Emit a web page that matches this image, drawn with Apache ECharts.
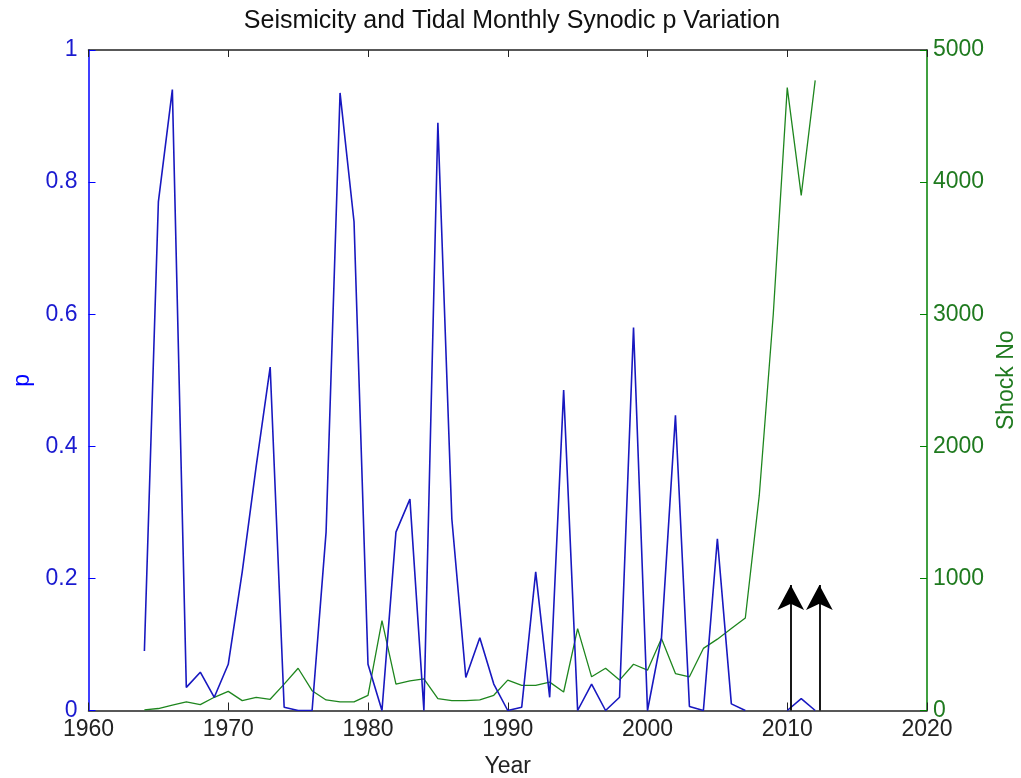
<!DOCTYPE html>
<html>
<head>
<meta charset="utf-8">
<title>Seismicity and Tidal Monthly Synodic p Variation</title>
<script src="https://cdn.jsdelivr.net/npm/echarts@6/dist/echarts.min.js"></script>
<style>
  html, body { margin: 0; padding: 0; background: #fff; }
  #chart { width: 1021px; height: 778px; }
</style>
</head>
<body>
<div id="chart"></div>
<script>
// years of the record
const years = [
  1964, 1965, 1966, 1967, 1968, 1969, 1970, 1971, 1972, 1973,
  1974, 1975, 1976, 1977, 1978, 1979, 1980, 1981, 1982, 1983,
  1984, 1985, 1986, 1987, 1988, 1989, 1990, 1991, 1992, 1993,
  1994, 1995, 1996, 1997, 1998, 1999, 2000, 2001, 2002, 2003,
  2004, 2005, 2006, 2007, 2008, 2009, 2010, 2011, 2012
]
// tidal monthly synodic p (left axis), null = no value
const pValues = [
  0.09, 0.77, 0.94, 0.035, 0.058, 0.02, 0.07, 0.21, 0.37, 0.52,
  0.005, 0, 0, 0.27, 0.935, 0.74, 0.07, 0, 0.27, 0.32,
  0, 0.89, 0.29, 0.05, 0.11, 0.04, 0, 0.005, 0.21, 0.02,
  0.485, 0, 0.04, 0, 0.02, 0.58, 0, 0.11, 0.447, 0.006,
  0, 0.26, 0.01, 0, null, null, 0, 0.018, 0
]
// number of shocks (right axis)
const shockNo = [
  5, 15, 40, 65, 45, 100, 145, 75, 100, 85,
  200, 320, 150, 80, 65, 65, 115, 680, 200, 225,
  240, 90, 75, 75, 80, 115, 230, 190, 190, 215,
  140, 620, 255, 320, 230, 350, 305, 545, 280, 255,
  470, 540, 620, 700, 1630, 3000, 4715, 3900, 4770
]
// arrows drawn near the end of the record
const arrowYears = [2010.25, 2012.3]
const arrowTop = 0.19

const fontFam = "'Liberation Sans', Arial, sans-serif"
const blue = '#0000ff'
const green = '#008000'
const plain = v => String(v)   // no thousands separator, like the original

const pData = years.map((y, i) => [y, pValues[i]])
const shockData = years.map((y, i) => [y, shockNo[i]])

const arrowLines = arrowYears.map(x => [
  { coord: [x, 0], symbol: 'none' },
  { coord: [x, arrowTop], symbol: 'arrow' }
])

const myChart = echarts.init(document.getElementById('chart'))

const option = {
  backgroundColor: '#fff',
  animation: false,
  title: {
    text: 'Seismicity and Tidal Monthly Synodic p Variation',
    left: 507,
    textAlign: 'center',
    top: 4,
    textStyle: { fontFamily: fontFam, fontSize: 25, fontWeight: 'normal', color: '#111' }
  },
  grid: { left: 88.5, right: 94, top: 50, bottom: 67.5, outerBoundsMode: 'none', containLabel: false },
  xAxis: [
    {
      type: 'value', min: 1960, max: 2020, interval: 10,
      name: 'Year', nameLocation: 'middle', nameGap: 45,
      nameTextStyle: { fontFamily: fontFam, fontSize: 23, color: '#222' },
      axisLine: { onZero: false, lineStyle: { color: '#222', width: 1.5 } },
      axisTick: { inside: true, length: 8, lineStyle: { color: '#222' } },
      axisLabel: { fontFamily: fontFam, fontSize: 23, color: '#222', margin: 8, formatter: plain },
      splitLine: { show: false }
    },
    {
      type: 'value', min: 1960, max: 2020, interval: 10, position: 'top',
      axisLine: { onZero: false, lineStyle: { color: '#222', width: 1.5 } },
      axisTick: { inside: true, length: 7, lineStyle: { color: '#222' } },
      axisLabel: { show: false },
      splitLine: { show: false }
    }
  ],
  yAxis: [
    {
      type: 'value', min: 0, max: 1, interval: 0.2, position: 'left',
      name: 'p', nameLocation: 'middle', nameGap: 47, nameRotate: 90,
      nameTextStyle: { fontFamily: fontFam, fontSize: 23, color: blue },
      axisLine: { show: true, onZero: false, lineStyle: { color: blue, width: 1.5 } },
      axisTick: { show: true, inside: true, length: 7, lineStyle: { color: blue } },
      axisLabel: { fontFamily: fontFam, fontSize: 23, color: '#1a1ad0', margin: 11, formatter: plain },
      splitLine: { show: false }
    },
    {
      type: 'value', min: 0, max: 5000, interval: 1000, position: 'right',
      name: 'Shock No', nameLocation: 'middle', nameGap: 67, nameRotate: 90,
      nameTextStyle: { fontFamily: fontFam, fontSize: 23, color: '#1f7a1f' },
      axisLine: { show: true, onZero: false, lineStyle: { color: green, width: 1.5 } },
      axisTick: { show: true, inside: true, length: 7, lineStyle: { color: green } },
      axisLabel: { fontFamily: fontFam, fontSize: 23, color: '#1f7a1f', margin: 6, formatter: plain },
      splitLine: { show: false }
    }
  ],
  series: [
    {
      name: 'p', type: 'line', xAxisIndex: 0, yAxisIndex: 0,
      data: pData, showSymbol: false, connectNulls: false,
      lineStyle: { color: '#1818c0', width: 1.6 },
      z: 3,
      markLine: {
        silent: true,
        symbolSize: [20, 25],
        label: { show: false },
        lineStyle: { color: '#000', width: 1.8, type: 'solid' },
        data: arrowLines
      }
    },
    {
      name: 'Shock No', type: 'line', xAxisIndex: 0, yAxisIndex: 1,
      data: shockData, showSymbol: false,
      lineStyle: { color: '#1e861e', width: 1.3 },
      z: 2
    }
  ]
}

myChart.setOption(option)
</script>
</body>
</html>
